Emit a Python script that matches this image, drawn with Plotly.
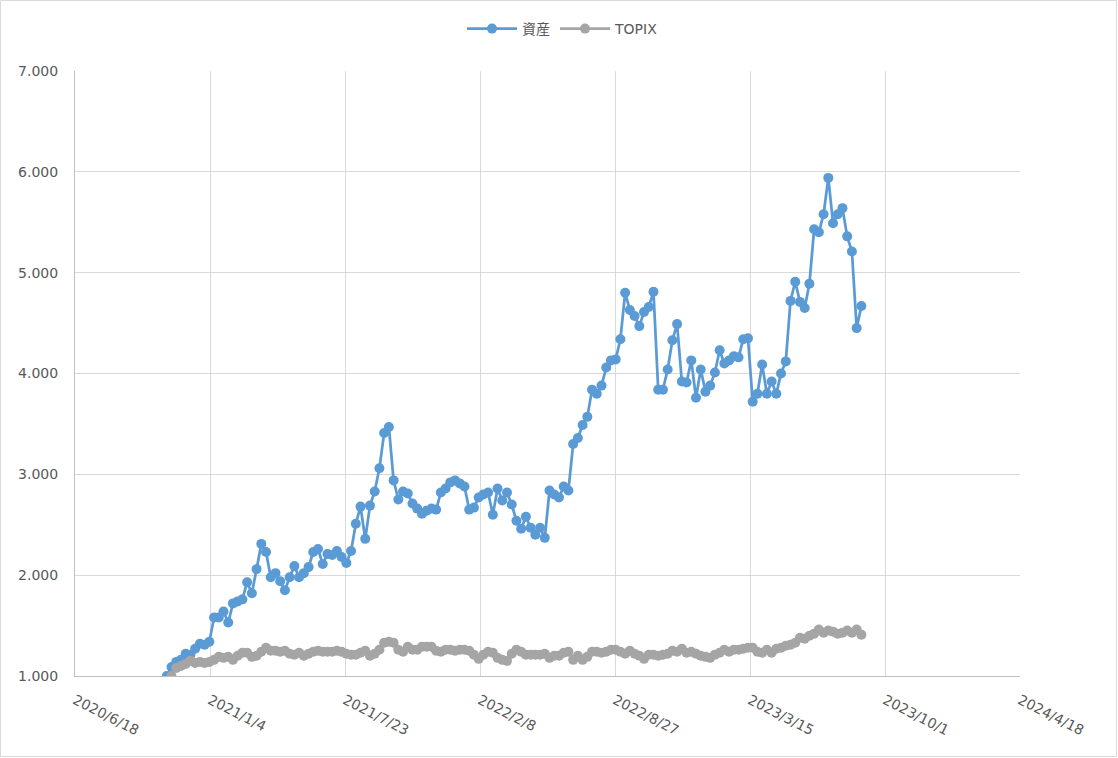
import pandas as pd
import plotly.graph_objects as go

start_date = "2020-11-01"

asset = [
    1000, 1090, 1140, 1160, 1220, 1210, 1270, 1320, 1310, 1340,
    1580, 1580, 1640, 1530, 1720, 1740, 1760, 1930, 1820, 2060,
    2310, 2230, 1980, 2020, 1940, 1850, 1980, 2090, 1980, 2020,
    2080, 2230, 2260, 2110, 2210, 2200, 2240, 2180, 2120, 2240,
    2510, 2680, 2360, 2690, 2830, 3060, 3410, 3470, 2940, 2750,
    2830, 2810, 2710, 2660, 2610, 2640, 2660, 2650, 2820, 2860,
    2920, 2940, 2910, 2880, 2650, 2670, 2770, 2800, 2820, 2600,
    2860, 2740, 2820, 2700, 2540, 2460, 2580, 2470, 2400, 2470,
    2370, 2840, 2800, 2770, 2880, 2840, 3300, 3360, 3490, 3570,
    3840, 3800, 3880, 4060, 4130, 4140, 4340, 4800, 4630, 4570,
    4470, 4610, 4660, 4810, 3840, 3840, 4040, 4330, 4490, 3920,
    3910, 4130, 3760, 4040, 3820, 3880, 4010, 4230, 4100, 4130,
    4170, 4160, 4340, 4350, 3720, 3800, 4090, 3800, 3920, 3800,
    4000, 4120, 4720, 4910, 4710, 4650, 4890, 5430, 5400, 5580,
    5940, 5490, 5580, 5640, 5360, 5210, 4450, 4670,
]

topix = [
    None, 1000, 1080, 1100, 1120, 1150, 1130, 1140, 1130, 1140,
    1160, 1190, 1180, 1190, 1160, 1200, 1230, 1230, 1190, 1200,
    1240, 1280, 1250, 1250, 1240, 1250, 1220, 1210, 1230, 1200,
    1220, 1240, 1250, 1240, 1240, 1240, 1250, 1240, 1220, 1210,
    1210, 1230, 1250, 1200, 1220, 1260, 1330, 1340, 1330, 1260,
    1240, 1290, 1260, 1260, 1290, 1290, 1290, 1250, 1240, 1260,
    1260, 1250, 1260, 1260, 1250, 1210, 1170, 1210, 1240, 1230,
    1180, 1160, 1150, 1220, 1260, 1240, 1210, 1210, 1210, 1210,
    1220, 1180, 1200, 1200, 1230, 1240, 1160, 1200, 1160, 1190,
    1240, 1240, 1230, 1240, 1260, 1260, 1240, 1220, 1250, 1220,
    1200, 1170, 1210, 1210, 1200, 1210, 1220, 1250, 1240, 1270,
    1230, 1240, 1220, 1200, 1190, 1180, 1210, 1230, 1260, 1240,
    1260, 1260, 1270, 1280, 1280, 1240, 1230, 1260, 1230, 1270,
    1280, 1300, 1310, 1330, 1380, 1370, 1400, 1420, 1460, 1430,
    1450, 1440, 1420, 1430, 1450, 1430, 1460, 1410,
]

tick_dates = ["2020-06-18", "2021-01-04", "2021-07-23", "2022-02-08",
              "2022-08-27", "2023-03-15", "2023-10-01", "2024-04-18"]
tick_labels = ["2020/6/18", "2021/1/4", "2021/7/23", "2022/2/8",
               "2022/8/27", "2023/3/15", "2023/10/1", "2024/4/18"]
y_ticks = [1000, 2000, 3000, 4000, 5000, 6000, 7000]

dates = pd.date_range(start_date, periods=len(asset), freq="7D")

BLUE = "#5B9BD5"
GRAY = "#A5A5A5"
FONT = "DejaVu Sans, Noto Sans CJK JP"

fig = go.Figure()
fig.add_trace(go.Scatter(
    x=dates, y=asset, name="資産", mode="lines+markers",
    line=dict(color=BLUE, width=2.75),
    marker=dict(color=BLUE, size=10),
))
fig.add_trace(go.Scatter(
    x=dates, y=topix, name="TOPIX", mode="lines+markers",
    line=dict(color=GRAY, width=2.75),
    marker=dict(color=GRAY, size=10),
))

L, R, T, B = 75, 98, 71, 82
W, H = 1118, 758
pw, ph = W - L - R, H - T - B

fig.update_layout(
    width=W, height=H,
    margin=dict(l=L, r=R, t=T, b=B, autoexpand=False),
    paper_bgcolor="white", plot_bgcolor="white",
    separators=",.",
    font=dict(family=FONT, size=13, color="#595959"),
    showlegend=True,
    legend=dict(
        orientation="h", x=(563 - L) / pw, xanchor="center",
        y=(H - B - 29) / ph, yanchor="middle",
        font=dict(family=FONT, size=14, color="#595959"),
        bgcolor="rgba(0,0,0,0)",
        itemwidth=50,
    ),
    xaxis=dict(
        type="date", automargin=False,
        range=[tick_dates[0], tick_dates[-1]],
        tickmode="array", tickvals=tick_dates, ticktext=tick_labels,
        tickangle=27,
        showgrid=True, gridcolor="#D9D9D9", gridwidth=1,
        showline=True, linecolor="#BFBFBF", linewidth=1,
        zeroline=False, ticks="",
        ticklabelstandoff=10,
        tickfont=dict(family=FONT, size=14, color="#595959"),
    ),
    yaxis=dict(
        automargin=False,
        range=[y_ticks[0], y_ticks[-1]],
        tickmode="array", tickvals=y_ticks,
        tickformat=",.0f",
        showgrid=True, gridcolor="#D9D9D9", gridwidth=1,
        showline=True, linecolor="#BFBFBF", linewidth=1,
        zeroline=False, ticks="",
        ticklabelstandoff=13,
        tickfont=dict(family=FONT, size=14, color="#595959"),
    ),
)

# chart-area border
fig.add_shape(
    type="rect", xref="paper", yref="paper",
    x0=(0.5 - L) / pw, x1=(W - 1.5 - L) / pw,
    y0=(H - B - (H - 1.5)) / ph, y1=(H - B - 0.5) / ph,
    line=dict(color="#D9D9D9", width=1), fillcolor="rgba(0,0,0,0)",
    layer="below",
)

fig.write_html(
    "out.html",
    config={"displayModeBar": False},
    post_script="document.body.style.margin='0';",
)
